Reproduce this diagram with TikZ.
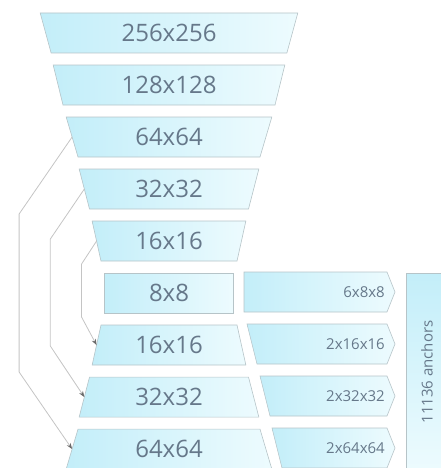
\documentclass[tikz,border=0pt]{standalone}
\usepackage{fontspec}
\setmainfont{Open Sans}
\usetikzlibrary{positioning, arrows.meta, calc, shapes.geometric}

\definecolor{boxfillL}{HTML}{C3EEF9}
\definecolor{boxfillR}{HTML}{EDFBFE}
\definecolor{boxedge}{HTML}{B6C4C8}
\definecolor{labelgray}{HTML}{66788A}
\definecolor{linkgray}{HTML}{C4C4C4}
\definecolor{tipgray}{HTML}{6A6A6A}

\begin{document}
\begin{tikzpicture}[
  x=1pt, y=-1pt,
  font=\fontsize{24}{27}\selectfont,
  % block styles
  level/.style={draw=boxedge, line width=0.6pt, left color=boxfillL, right color=boxfillR,
    text=labelgray, minimum height=40pt, inner sep=0pt, outer sep=0pt},
  down/.style={level, trapezium, trapezium left angle=104, trapezium right angle=104,
    trapezium stretches=true},
  up/.style={level, trapezium, trapezium left angle=76, trapezium right angle=76,
    trapezium stretches=true},
  flat/.style={level, rectangle},
  headbox/.style={draw=boxedge, line width=0.6pt, left color=boxfillL, right color=boxfillR},
  headlbl/.style={text=labelgray, font=\fontsize{15}{18}\selectfont, inner sep=0pt},
  % connector styles
  skip/.style={draw=linkgray, line width=0.8pt,
    -{Stealth[length=6pt, width=4.5pt, color=tipgray]}}
]
  \useasboundingbox (0,0) rectangle (441,468);
  \clip (0,0) rectangle (441,468);

  % ==========================================
  % ENCODER
  % ==========================================
  \node[down, minimum width=258pt] (enc256) at (169,33) {256x256};
  \node[down, minimum width=232pt, below=12pt of enc256] (enc128) {128x128};
  \node[down, minimum width=206pt, below=12pt of enc128] (enc64) {64x64};
  \node[down, minimum width=180pt, below=12pt of enc64] (enc32) {32x32};
  \node[down, minimum width=154pt, below=12pt of enc32] (enc16) {16x16};

  % bottleneck
  \node[flat, minimum width=129pt, below=12pt of enc16] (bott8) {8x8};

  % ==========================================
  % DECODER
  % ==========================================
  \node[up, minimum width=154pt, below=12pt of bott8] (dec16) {16x16};
  \node[up, minimum width=180pt, below=12pt of dec16] (dec32) {32x32};
  \node[up, minimum width=206pt, below=12pt of dec32] (dec64) {64x64};

  % skip connections
  \draw[skip] (enc64.left side) -- ++(-53,77) -- ++(0,158) -- (dec64.left side);
  \draw[skip] (enc32.left side) -- ++(-34,50) -- ++(0,107) -- (dec32.left side);
  \draw[skip] (enc16.left side) -- ++(-15,23) -- ++(0,53) -- (dec16.left side);

  % ==========================================
  % ANCHOR HEADS
  % ==========================================
  \foreach \y/\lt/\lb/\txt/\nm in {292/244/244/6x8x8/h8, 344/247/257/2x16x16/h16,
      396/260/270/2x32x32/h32, 448/272/282/2x64x64/h64}{
    \path[headbox] (\lt,\y-20) -- (387,\y-20) -- (395,\y) -- (387,\y+20) -- (\lb,\y+20) -- cycle;
    \node[headlbl, anchor=east] (\nm) at (385,\y) {\txt};
  }

  \node[draw=boxedge, line width=0.6pt, top color=boxfillL, bottom color=boxfillR,
    rotate=90, minimum width=198pt, minimum height=42pt, inner sep=0pt,
    text=labelgray, font=\fontsize{15}{18}\selectfont] (anchors) at (427,372) {11136 anchors};

\end{tikzpicture}
\end{document}
